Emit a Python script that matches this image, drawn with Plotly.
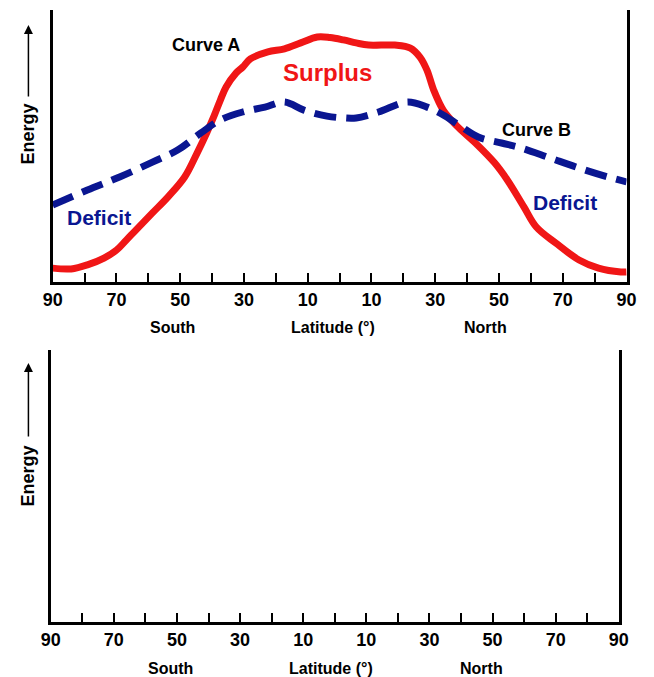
import plotly.graph_objects as go

# Curve A (incoming solar energy) - latitude (deg, south negative) vs relative energy
lat_a = [-90, -84.2, -79.1, -73.9, -69.9, -66.9, -63.9, -58.7, -53.8, -48.6, -44.7, -41.7,
         -39.5, -37.4, -35.6, -32.5, -30.4, -28, -22.5, -17.3, -12.2, -7, -3, 1.2, 5.2, 9.1,
         17.3, 22.2, 25.2, 27.4, 29.5, 32.5, 36.5, 42.6, 48.6, 52.6, 57.8, 61.7, 67.8, 75.1,
         81.2, 88.2, 90]
energy_a = [5.1, 4.8, 6.3, 8.8, 11.8, 15.4, 19.1, 25.4, 31.3, 38.6, 47.4, 54.8,
            60.7, 66.9, 71.7, 76.8, 79.0, 82.0, 84.6, 85.7, 87.9, 90.1, 89.9, 89.0, 87.9, 87.1,
            87.1, 86.0, 82.7, 77.9, 70.6, 63.2, 57.7, 51.1, 43.8, 37.5, 27.6, 20.2, 14.3, 8.1,
            5.1, 3.7, 3.7]

# Curve B (outgoing energy)
lat_b = [-90, -79.1, -69, -58.7, -50.8, -43.5, -37.4, -30.4, -23.4, -17.3, -11.2, -4,
         1.5, 5.2, 12.2, 21.3, 27.4, 32.5, 37.4, 43.5, 50.8, 56.9, 66, 75.1, 84.2, 90]
energy_b = [28.3, 33.8, 38.6, 44.1, 48.5, 54.8, 59.6, 62.5, 64.3, 66.2, 63.2, 61.0,
            60.3, 60.3, 62.5, 66.2, 64.3, 61.4, 57.7, 53.3, 51.1, 49.3, 45.6, 41.9, 38.6, 36.8]

tick_lat = [-90, -70, -50, -30, -10, 10, 30, 50, 70, 90]
tick_text = ["90", "70", "50", "30", "10", "10", "30", "50", "70", "90"]

RED = "#f01616"
BLUE = "#0a1691"
FONT = "Liberation Sans, Arial, sans-serif"

fig = go.Figure()

fig.add_trace(go.Scatter(x=lat_a, y=energy_a, mode="lines", line=dict(color=RED, width=7, shape="spline"),
                         xaxis="x", yaxis="y", showlegend=False, hoverinfo="skip"))
fig.add_trace(go.Scatter(x=lat_b, y=energy_b, mode="lines",
                         line=dict(color=BLUE, width=7, shape="spline", dash="22px,10px"),
                         xaxis="x", yaxis="y", showlegend=False, hoverinfo="skip"))

W, H = 654, 677


def px_x(p):
    return p / W


def px_y(p):
    return 1 - p / H


xaxis_common = dict(
    range=[-90, 90], tickvals=tick_lat, ticktext=[f"<b>{t}</b>" for t in tick_text],
    ticks="inside", ticklen=9, tickwidth=1.5, tickcolor="black",
    minor=dict(dtick=10, tick0=0, ticks="inside", ticklen=9, tickwidth=1.5, tickcolor="black"),
    showline=True, linewidth=2.5, linecolor="black",
    showgrid=False, zeroline=False, fixedrange=True,
    tickfont=dict(family=FONT, size=18, color="black"),
)
yaxis_common = dict(
    range=[0, 100], showticklabels=False, ticks="",
    showline=True, mirror=True, linewidth=2.5, linecolor="black",
    showgrid=False, zeroline=False, fixedrange=True,
)

fig.update_layout(
    width=W, height=H,
    margin=dict(l=0, r=0, t=0, b=0),
    paper_bgcolor="white", plot_bgcolor="white",
    xaxis=dict(domain=[px_x(44), px_x(636)], anchor="y", **xaxis_common),
    yaxis=dict(domain=[px_y(282), px_y(10)], anchor="x", **yaxis_common),
    xaxis2=dict(domain=[px_x(42), px_x(628)], anchor="y2", **xaxis_common),
    yaxis2=dict(domain=[px_y(622), px_y(350)], anchor="x2", **yaxis_common),
)

# keep the empty lower panel's axes alive
fig.add_trace(go.Scatter(x=[None], y=[None], xaxis="x2", yaxis="y2", showlegend=False, hoverinfo="skip"))


def label(text, x, y, size, color="black", angle=0):
    fig.add_annotation(text=f"<b>{text}</b>", x=px_x(x), y=px_y(y), xref="paper", yref="paper",
                       showarrow=False, xanchor="center", yanchor="middle", textangle=angle,
                       font=dict(family=FONT, size=size, color=color))


# curve labels
label("Curve A", 202, 45, 18)
label("Surplus", 328, 72, 24, RED)
label("Curve B", 543, 130, 18)
label("Deficit", 92, 217, 21, BLUE)
label("Deficit", 572, 202, 21, BLUE)

# axis titles for both panels
for (yl, ye, ya, xs) in [(327, 134, (25, 98), (168, 333, 490)), (668, 476, (363, 438), (166, 331, 486))]:
    label("South", xs[0], yl, 16)
    label("Latitude (°)", xs[1], yl, 16)
    label("North", xs[2], yl, 16)
    label("Energy", 19, ye, 18, angle=-90)
    fig.add_annotation(text="", x=px_x(19), y=px_y(ya[0]), xref="paper", yref="paper",
                       ax=0, ay=ya[1] - ya[0], showarrow=True, arrowhead=2,
                       arrowsize=1.2, arrowwidth=1.5, arrowcolor="black")

# page body has a default 8px margin that would push the chart off the window
fig.write_html("out.html", config={"displayModeBar": False},
               post_script="document.body.style.margin='0px';")
